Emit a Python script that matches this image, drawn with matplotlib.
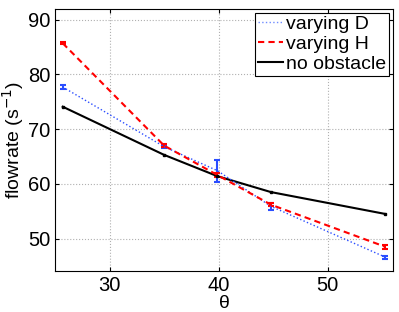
import matplotlib
matplotlib.use("Agg")
import matplotlib.pyplot as plt
from matplotlib.lines import Line2D

plt.rcParams['font.family'] = ['Liberation Sans', 'DejaVu Sans']

theta = [25.7, 35.0, 39.9, 44.8, 55.3]

flow_D = [77.7, 66.8, 62.4, 55.9, 46.6]
err_D = [0.4, 0.3, 2.0, 0.6, 0.3]

flow_H = [85.7, 67.0, 61.6, 56.2, 48.5]
err_H = [0.2, 0.3, 0.3, 0.3, 0.4]

flow_none = [74.1, 65.3, 61.4, 58.5, 54.5]

labels = ["varying D", "varying H", "no obstacle"]

fig, ax = plt.subplots(figsize=(3.99, 3.12), dpi=100)

ax.errorbar(theta, flow_D, yerr=err_D, color="#2a4dff", ls=":", lw=1.0,
            elinewidth=1.5, capsize=2.5, capthick=1.5)
ax.errorbar(theta, flow_H, yerr=err_H, color="red", ls=(0, (3, 2)), lw=1.5,
            elinewidth=1.5, capsize=2.5, capthick=1.5)
ax.plot(theta, flow_none, color="black", ls="-", lw=1.5, marker="s",
        markersize=2)

ax.set_xlim(25, 56)
ax.set_ylim(44, 92)
ax.set_xticks([30, 40, 50])
ax.set_yticks([50, 60, 70, 80, 90])
ax.tick_params(direction="in", top=True, right=True, labelsize=14.5, length=3)
ax.grid(True, ls=":", color="#b0b0b0", lw=0.8)
ax.set_xlabel("θ", fontsize=14, labelpad=0)
ax.set_ylabel("flowrate (s$^{-1}$)", fontsize=14, labelpad=1)

handles = [Line2D([], [], color="#6f8cff", ls=":", lw=1.0),
           Line2D([], [], color="red", ls=(0, (3, 2)), lw=1.5),
           Line2D([], [], color="black", ls="-", lw=1.5)]
leg = ax.legend(handles, labels, loc="upper right", fontsize=14,
                handlelength=1.3, handletextpad=0.15, borderpad=0.15,
                labelspacing=0.12, fancybox=False, framealpha=1,
                borderaxespad=0.2)
leg.get_frame().set_edgecolor("black")
leg.get_frame().set_linewidth(0.8)

fig.subplots_adjust(left=0.138, right=0.985, top=0.972, bottom=0.13)
fig.savefig("out.png", dpi=100)
